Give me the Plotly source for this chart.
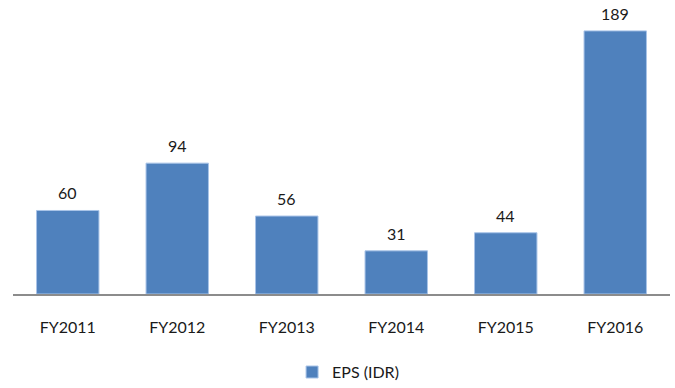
import plotly.graph_objects as go

years = ["FY2011", "FY2012", "FY2013", "FY2014", "FY2015", "FY2016"]
eps_idr = [60, 94, 56, 31, 44, 189]

font_family = "Lato, 'Open Sans', sans-serif"
text_color = "#1a1a1a"

fig = go.Figure(
    go.Bar(
        x=years,
        y=eps_idr,
        name="EPS (IDR)",
        marker=dict(color="#4F81BD", line=dict(color="#A9C4E8", width=1)),
    )
)

# value labels above each bar
for year, v in zip(years, eps_idr):
    fig.add_annotation(
        x=year, y=v, text=str(v), showarrow=False,
        yanchor="bottom", yshift=6,
        font=dict(size=16, color=text_color, family=font_family),
    )

fig.update_layout(
    width=675,
    height=388,
    margin=dict(l=13, r=5, t=10, b=94, autoexpand=False),
    paper_bgcolor="white",
    plot_bgcolor="white",
    bargap=0.43,
    showlegend=True,
    legend=dict(
        orientation="h",
        x=0.51,
        xanchor="center",
        y=-0.275,
        yanchor="middle",
        font=dict(size=16, color=text_color, family=font_family),
        itemwidth=30,
    ),
    font=dict(family=font_family),
)

fig.update_xaxes(
    showline=True,
    linecolor="#8c8c8c",
    linewidth=2,
    ticks="",
    ticklabelstandoff=18,
    tickfont=dict(size=16, color=text_color, family=font_family),
    showgrid=False,
)
fig.update_yaxes(
    range=[0, 204],
    visible=False,
    showgrid=False,
)

fig.write_html("out.html")
